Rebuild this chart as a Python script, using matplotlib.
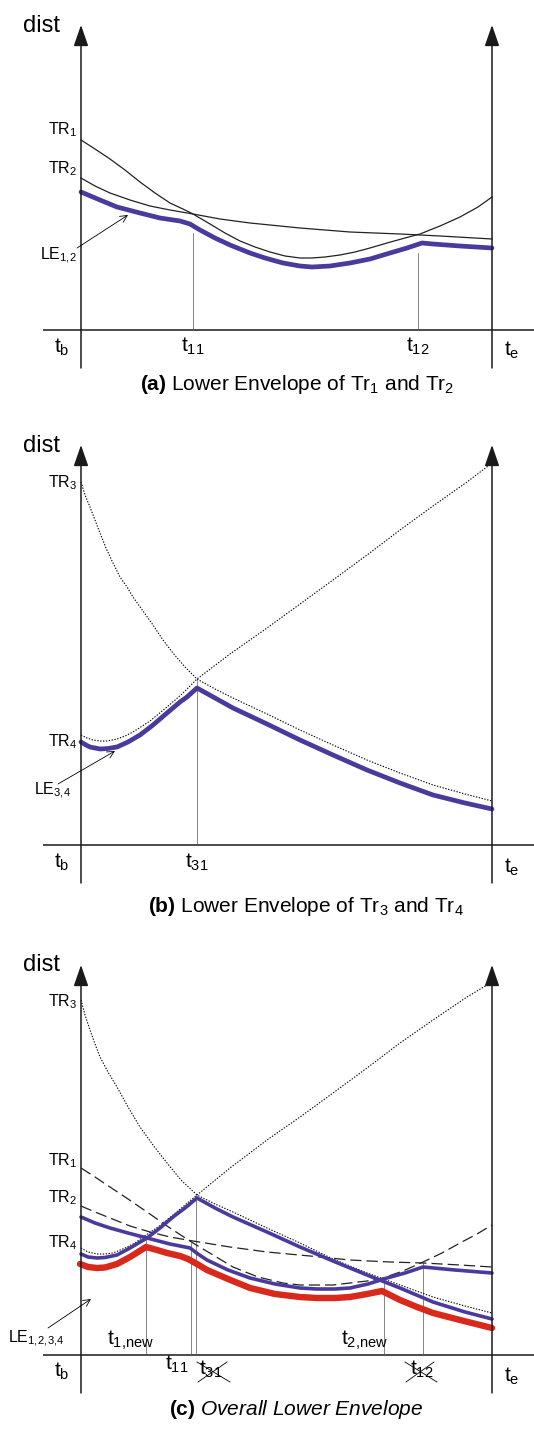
import numpy as np
import matplotlib
matplotlib.use('Agg')
import matplotlib.pyplot as plt

plt.rcParams['font.family'] = ['Liberation Sans', 'DejaVu Sans']
plt.rcParams['mathtext.fontset'] = 'custom'
plt.rcParams['mathtext.rm'] = 'Liberation Sans'
plt.rcParams['mathtext.it'] = 'Liberation Sans:italic'
plt.rcParams['mathtext.bf'] = 'Liberation Sans:bold'

###############################################################################
#### trajectories: time column (px), distance above the time axis (px)
###############################################################################
T_B, T_E = 81, 492

# (a) Tr1 / Tr2 and their lower envelope
a_tr1_t = [81, 95, 110, 125, 140, 155, 170, 185, 193, 210, 225, 240, 255, 270, 285, 300,
           312, 325, 340, 355, 370, 387, 405, 420, 440, 460, 478, 492]
a_tr1_d = [190, 181, 171, 160, 148, 137, 127, 120, 116, 106, 97, 89, 83, 78, 74, 72,
           72, 73, 75, 78, 82, 87, 92, 96, 104, 113, 123, 133]
a_tr2_t = [81, 95, 110, 130, 150, 170, 193, 220, 250, 300, 350, 400, 440, 492]
a_tr2_d = [152, 144, 137, 130, 124, 120, 116, 111, 107, 102, 98, 96, 94, 91]
a_le_t = [81, 100, 117, 140, 160, 180, 190, 200, 215, 230, 250, 265, 283, 300, 312,
          330, 350, 370, 390, 407, 422, 433, 460, 492]
a_le_d = [138, 130, 123, 117, 112, 109, 106, 100, 92, 85, 77, 72, 67, 64, 63,
          64, 67, 71, 77, 82, 87, 86, 84, 82]
a_cuts = {'t_{11}': (193, 97), 't_{12}': (418, 77)}

# (b) Tr3 / Tr4 and their lower envelope
b_tr3_t = [81, 85, 90, 95, 100, 106, 113, 120, 127, 133, 143, 153, 163, 173, 185, 197,
           215, 233, 267, 300, 333, 367, 400, 433, 465, 492]
b_tr3_d = [363, 350, 338, 325, 312, 297, 282, 268, 258, 248, 234, 220, 205, 192, 178, 166,
           156, 147, 131, 115, 100, 85, 72, 60, 51, 44]
b_tr4_t = [81, 87, 93, 100, 107, 117, 125, 133, 150, 167, 182, 197, 230, 267, 300, 333,
           367, 400, 433, 467, 492]
b_tr4_d = [110, 107, 105, 104, 104, 106, 109, 113, 124, 138, 151, 166, 191, 217, 241, 265,
           290, 315, 339, 363, 382]
b_le_t = [81, 86, 90, 95, 100, 108, 117, 128, 140, 153, 167, 180, 187, 197, 215, 233,
          267, 300, 333, 367, 400, 433, 465, 492]
b_le_d = [103, 100, 98, 97, 96, 96.5, 98, 103, 110, 120, 132, 143, 148, 157, 147, 137,
          121, 105, 90, 75, 62, 50, 42, 36]
b_cuts = {'t_{31}': (197, 165)}

# (c) all four trajectories, both partial envelopes and the overall one
c_tr3_t = [81, 85, 90, 95, 100, 108, 117, 128, 140, 153, 167, 181, 197, 215, 233, 267,
           300, 333, 367, 400, 433, 465, 492]
c_tr3_d = [355, 340, 325, 311, 298, 283, 268, 248, 228, 210, 192, 175, 160, 151, 143, 127,
           112, 96, 82, 70, 58, 49, 42]
c_tr4_t = [81, 88, 97, 105, 113, 125, 135, 143, 158, 173, 185, 197, 230, 267, 300, 333,
           367, 400, 433, 467, 492]
c_tr4_d = [107, 103, 101, 101, 102, 107, 112, 118, 128, 140, 150, 160, 187, 215, 238, 262,
           287, 312, 335, 358, 373]
c_tr1_t = [81, 95, 110, 128, 147, 170, 193, 213, 233, 258, 283, 300, 317, 333, 350, 367,
           383, 403, 423, 442, 460, 477, 492]
c_tr1_d = [187, 178, 168, 156, 143, 127, 112, 100, 88, 78, 72, 70, 70, 70, 72, 74,
           77, 84, 93, 102, 112, 121, 130]
c_tr2_t = [81, 95, 110, 130, 150, 170, 193, 230, 267, 310, 350, 390, 423, 460, 492]
c_tr2_d = [149, 143, 137, 129, 123, 118, 114, 108, 103, 99, 95, 93, 92, 90, 88]
c_le12_t = [81, 95, 110, 128, 147, 170, 190, 198, 207, 228, 250, 275, 300, 317, 335, 350,
            368, 387, 405, 423, 455, 492]
c_le12_d = [138, 132, 127, 122, 117, 111, 107, 101, 95, 85, 77, 71, 67, 66, 66, 67,
            71, 77, 82, 88, 85, 82]
c_le34_t = [81, 88, 97, 105, 117, 130, 147, 160, 173, 185, 197, 215, 233, 267, 300, 333,
            367, 400, 433, 465, 492]
c_le34_d = [101, 98, 97, 97.5, 100, 107, 117, 127, 138, 147, 157, 147, 138, 123, 108, 94,
            80, 67, 53, 43, 36]
c_le_t = [80, 88, 97, 105, 117, 130, 146, 157, 167, 180, 188, 197, 207, 228, 250, 275,
          300, 317, 335, 350, 367, 382, 390, 400, 417, 433, 460, 492]
c_le_d = [91, 88, 87, 87.5, 91, 98, 108, 105, 102, 99, 96, 91, 85, 76, 67, 61,
          58, 57, 57, 58, 61, 64, 60, 55, 48, 42, 35, 27]
c_cuts = {'t_{1,new}': (146, 118), 't_{11}': (190.5, 112), 't_{31}': (196, 160),
          't_{2,new}': (384, 75), 't_{12}': (423, 92)}

BLUE = '#4a3a9e'
RED = '#d9291c'
AXC = '#1a1a1a'

W, H = 534, 1435
fig = plt.figure(figsize=(W / 100, H / 100), dpi=100)


def panel(top, bottom, base):
    # axes spanning pixel rows top..bottom, y measured upwards from row `base`
    ax = fig.add_axes([0, 1 - bottom / H, 1, (bottom - top) / H])
    ax.set_xlim(0, W)
    ax.set_ylim(base - bottom, base - top)
    ax.axis('off')
    return ax


def frame(ax, tip, low=-38):
    ax.plot([43, W], [0, 0], color=AXC, lw=1.1, solid_capstyle='butt')
    for x in (T_B, T_E):
        ax.annotate('', xy=(x, tip), xytext=(x, low),
                    arrowprops=dict(arrowstyle='-|>,head_length=1.3,head_width=0.45',
                                    color=AXC, lw=1.1, shrinkA=0, shrinkB=0))


def cuts(ax, cut):
    for name, (x, top) in cut.items():
        ax.plot([x, x], [0, top], color='#555555', lw=0.5)


def dotted(ax, t, d):
    ax.plot(t, d, color='k', lw=0.8, ls=(0, (1.2, 1.4)))


def dashed(ax, t, d):
    ax.plot(t, d, color='#222222', lw=0.9, ls=(0, (9, 4)))


def envelope(ax, t, d, color, lw):
    ax.plot(t, d, color=color, lw=lw, solid_capstyle='round', solid_joinstyle='round')


def pointer(ax, xy_text, xy):
    ax.annotate('', xy=xy, xytext=xy_text,
                arrowprops=dict(arrowstyle='->,head_length=0.5,head_width=0.25',
                                color='k', lw=0.6, shrinkA=0, shrinkB=0))


def lab(ax, x, y, s, size=11.5, ha='right'):
    ax.text(x, y, s, fontsize=size, ha=ha, va='baseline')


###############################################################################
#### (a)
###############################################################################
ax = panel(0, 400, 330)
frame(ax, 305)
cuts(ax, a_cuts)
ax.plot(a_tr1_t, a_tr1_d, color='#222222', lw=0.9)
ax.plot(a_tr2_t, a_tr2_d, color='#222222', lw=0.9)
envelope(ax, a_le_t, a_le_d, BLUE, 3.4)
lab(ax, 23, 298, 'dist', 17, 'left')
lab(ax, 77, 196, r'TR$_1$')
lab(ax, 77, 157, r'TR$_2$')
lab(ax, 77, 70, r'LE$_{1,\!2}$')
pointer(ax, (77, 82), (128, 115))
lab(ax, 62, -23, r't$_\mathrm{b}$', 15, 'center')
lab(ax, 193, -22, r't$_{11}$', 15, 'center')
lab(ax, 418, -22, r't$_{12}$', 15, 'center')
lab(ax, 512, -26, r't$_\mathrm{e}$', 15, 'center')
lab(ax, 297, -60, r'$\mathbf{(a)}$ Lower Envelope of Tr$_1$ and Tr$_2$', 15, 'center')

###############################################################################
#### (b)
###############################################################################
ax = panel(400, 920, 845)
frame(ax, 400)
cuts(ax, b_cuts)
dotted(ax, b_tr3_t, b_tr3_d)
dotted(ax, b_tr4_t, b_tr4_d)
envelope(ax, b_le_t, b_le_d, BLUE, 3.4)
lab(ax, 23, 393, 'dist', 17, 'left')
lab(ax, 77, 358, r'TR$_3$')
lab(ax, 77, 99, r'TR$_4$')
lab(ax, 71, 50, r'LE$_{3,\!4}$')
pointer(ax, (58, 61), (115, 94))
lab(ax, 62, -23, r't$_\mathrm{b}$', 15, 'center')
lab(ax, 197, -23, r't$_{31}$', 15, 'center')
lab(ax, 512, -28, r't$_\mathrm{e}$', 15, 'center')
lab(ax, 306, -67, r'$\mathbf{(b)}$ Lower Envelope of Tr$_3$ and Tr$_4$', 15, 'center')

###############################################################################
#### (c)
###############################################################################
ax = panel(920, H, 1355)
frame(ax, 390)
cuts(ax, c_cuts)
dotted(ax, c_tr3_t, c_tr3_d)
dotted(ax, c_tr4_t, c_tr4_d)
dashed(ax, c_tr1_t, c_tr1_d)
dashed(ax, c_tr2_t, c_tr2_d)
envelope(ax, c_le12_t, c_le12_d, BLUE, 2.6)
envelope(ax, c_le34_t, c_le34_d, BLUE, 2.6)
envelope(ax, c_le_t, c_le_d, RED, 4.6)
lab(ax, 23, 384, 'dist', 17, 'left')
lab(ax, 77, 349, r'TR$_3$')
lab(ax, 77, 190, r'TR$_1$')
lab(ax, 77, 153, r'TR$_2$')
lab(ax, 77, 108, r'TR$_4$')
lab(ax, 65, 12, r'LE$_{1,\!2,\!3,\!4}$')
pointer(ax, (48, 27), (91, 56))
lab(ax, 107, 10, r't$_{1,\!\mathrm{new}}$', 15, 'left')
lab(ax, 341, 10, r't$_{2,\!\mathrm{new}}$', 15, 'left')
lab(ax, 177, -15, r't$_{11}$', 15, 'center')
lab(ax, 211, -20, r't$_{31}$', 15, 'center')
lab(ax, 422, -20, r't$_{12}$', 15, 'center')
for (x0, x1) in ((197, 230), (405, 437)):
    ax.plot([x0, x1], [-7, -27], color='k', lw=0.6)
    ax.plot([x0 + 1, x1 - 3], [-27, -7], color='k', lw=0.6)
lab(ax, 62, -22, r't$_\mathrm{b}$', 15, 'center')
lab(ax, 512, -27, r't$_\mathrm{e}$', 15, 'center')
lab(ax, 296, -60, r'$\mathbf{(c)}$ $\mathit{Overall\ Lower\ Envelope}$', 15, 'center')

plt.savefig('out.png', dpi=100)
